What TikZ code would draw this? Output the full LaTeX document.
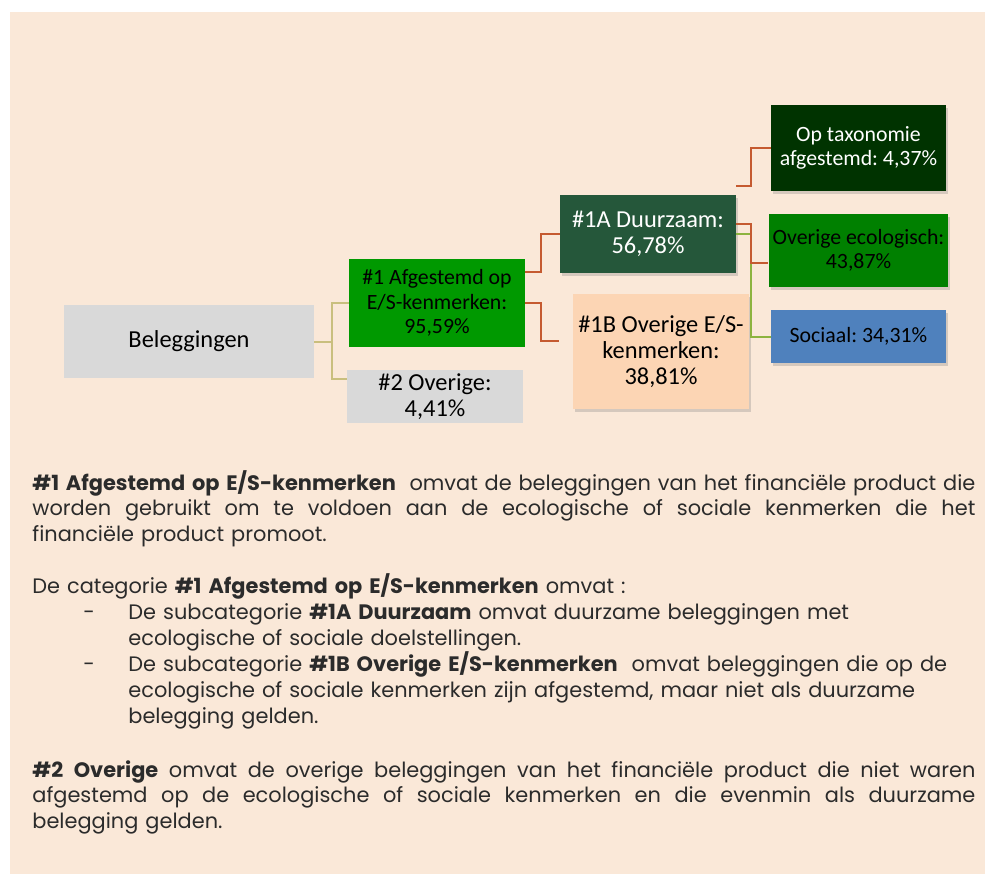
\documentclass[tikz,border=0pt]{standalone}
\usepackage{fontspec}
\setmainfont{Poppins}
\newfontfamily\boxfont{Carlito}
\usetikzlibrary{shadows}

\definecolor{bg}{HTML}{FAE8D8}
\definecolor{greybox}{HTML}{D9D9D9}
\definecolor{midgreen}{HTML}{009900}
\definecolor{darkgreen}{HTML}{25573A}
\definecolor{deepgreen}{HTML}{003300}
\definecolor{ecogreen}{HTML}{008000}
\definecolor{socblue}{HTML}{4F81BD}
\definecolor{peach}{HTML}{FCD5B4}
\definecolor{olive}{HTML}{C9BF7E}
\definecolor{rust}{HTML}{C55A30}
\definecolor{leaf}{HTML}{8DB33F}
\definecolor{bodytext}{HTML}{2B2B2B}

\newcommand{\jline}[1]{\makebox[471.5pt][s]{\spaceskip=\fontdimen2\font plus 1fil\relax #1}}
\newcommand{\bul}{\makebox[48pt][l]{\hspace*{25.5pt}-}}

\begin{document}
\frenchspacing
\begin{tikzpicture}[x=0.5pt,y=-0.5pt,
    box/.style={rectangle,inner sep=2pt,align=center,font=\boxfont\fontsize{10.9}{12.2}\selectfont},
    bigbox/.style={box,font=\boxfont\fontsize{12.2}{12.9}\selectfont},
    shade/.style={drop shadow={opacity=0.3,shadow xshift=1pt,shadow yshift=-1.5pt}},
    link/.style={line width=1pt},
    para/.style={anchor=base west,inner sep=0pt,text width=471.5pt,align=left,text=bodytext,font=\fontsize{10.45}{12.75}\selectfont}]
    \useasboundingbox (0,0) rectangle (985,874);
    \fill[bg] (10,12) rectangle (985,874);
    % diagram
    \node[bigbox,fill=greybox,minimum width=125pt,minimum height=36.5pt] (bel) at (189,341.5) {Beleggingen};
    \node[box,fill=midgreen,minimum width=88pt,minimum height=44pt] (a1) at (437,303) {\#1 Afgestemd op\\E/S-kenmerken:\\95,59\%};
    \node[bigbox,fill=greybox,minimum width=88pt,minimum height=26.5pt] (o2) at (435,396.5) {\#2 Overige:\\4,41\%};
    \node[bigbox,shade,fill=darkgreen,text=white,minimum width=88pt,minimum height=39pt] (a1a) at (648,234) {\#1A Duurzaam:\\56,78\%};
    \node[bigbox,shade,fill=peach,minimum width=88pt,minimum height=57.5pt] (a1b) at (661,351.5) {\#1B Overige E/S-\\kenmerken:\\38,81\%};
    \node[box,shade,fill=deepgreen,text=white,minimum width=87.5pt,minimum height=43pt] (tax) at (858.5,148) {Op taxonomie\\afgestemd: 4,37\%};
    \node[box,shade,fill=ecogreen,minimum width=87.5pt,minimum height=36.5pt] (eco) at (858.5,250.5) {Overige ecologisch:\\43,87\%};
    \node[box,shade,fill=socblue,minimum width=87.5pt,minimum height=26.5pt] (soc) at (858.5,336.5) {Sociaal: 34,31\%};
    % connectors
    \draw[link,olive] (bel.east) -- ++(9pt,0) |- (a1.west);
    \draw[link,olive] (bel.east) -- ++(9pt,0) |- ([yshift=8.75pt]o2.west);
    \draw[link,rust] ([yshift=15.5pt]a1.east) -- ++(8pt,0) |- (a1a.west);
    \draw[link,rust] (a1.east) -- ++(8pt,0) |- ([xshift=-7pt,yshift=5.25pt]a1b.west);
    \draw[link,leaf] (a1a.east) -- ++(7.5pt,0) |- (soc.west);
    \draw[link,rust] ([yshift=24pt]a1a.east) -- ++(7.5pt,0) |- (tax.west);
    \draw[link,rust] ([yshift=5pt]a1a.east) -- ++(7.5pt,0) |- ([yshift=-6.25pt]eco.west);
    % text below
    \node[para] (p1) at (32,490) {\jline{\textbf{\#1 Afgestemd op E/S-kenmerken}\ \ omvat de beleggingen van het financiële product die}\\
        \jline{worden gebruikt om te voldoen aan de ecologische of sociale kenmerken die het}\\
        financiële product promoot.};
    \node[para,font=\fontsize{10.45}{13}\selectfont] (p2) at (32,593) {De categorie \textbf{\#1 Afgestemd op E/S-kenmerken} omvat :\\
        \bul De subcategorie \textbf{\#1A Duurzaam} omvat duurzame beleggingen met\\
        \hspace*{48pt}ecologische of sociale doelstellingen.\\
        \bul De subcategorie \textbf{\#1B Overige E/S-kenmerken}\ \ omvat beleggingen die op de\\
        \hspace*{48pt}ecologische of sociale kenmerken zijn afgestemd, maar niet als duurzame\\
        \hspace*{48pt}belegging gelden.};
    \node[para] (p3) at (32,777) {\jline{\textbf{\#2 Overige} omvat de overige beleggingen van het financiële product die niet waren}\\
        \jline{afgestemd op de ecologische of sociale kenmerken en die evenmin als duurzame}\\
        belegging gelden.};
\end{tikzpicture}
\end{document}
